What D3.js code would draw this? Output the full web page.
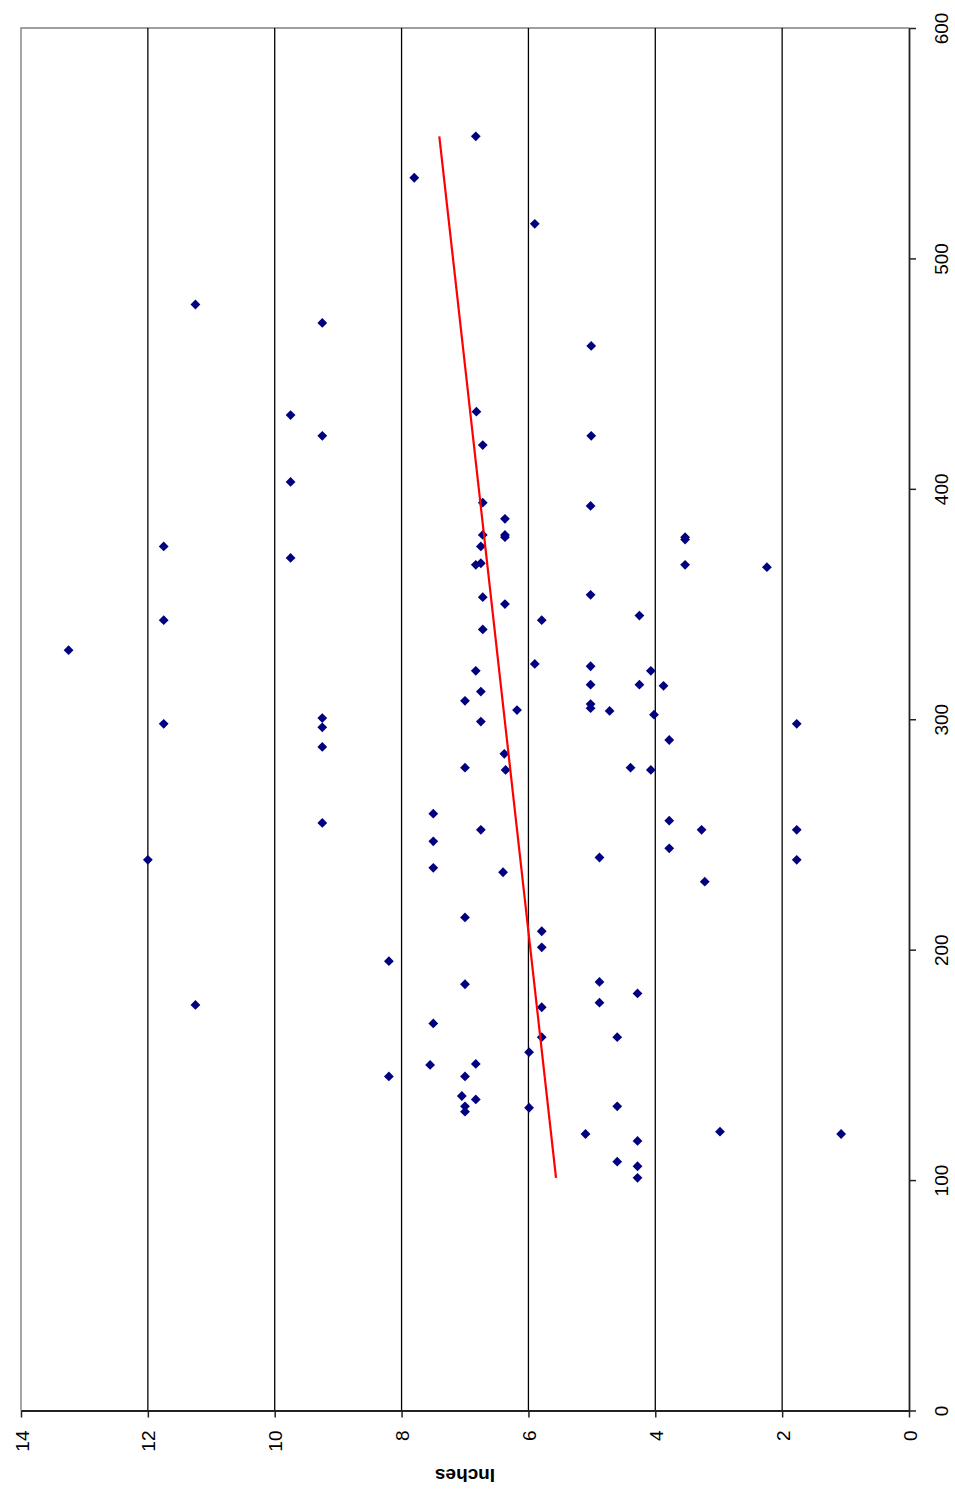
<!DOCTYPE html>
<html>
<head>
<meta charset="utf-8">
<script src="https://cdn.jsdelivr.net/npm/d3@7"></script>
<style>
  html, body { margin: 0; padding: 0; background: #fff; }
  svg { display: block; }
  text { font-family: "Liberation Sans", Arial, sans-serif; }
</style>
</head>
<body>
<svg id="chart" width="955" height="1490"></svg>
<script>
// ---- data (x = horizontal value 0..600, inches = 0..14) ----
const xValues = [330,239,375,343,298,480,176,432,403,370,
  472,423,300.5,296.5,288,255,195,145,535,259,
  247,235.5,168,150,553,515,308,279,214,185,
  145,136.5,132,129.7,150.4,135,433.5,419,394,380,
  375,367.7,367,353,339,321,312,299,252,387,
  380,379,350,304,285,278,233.6,324,343,208,
  201,175,162,155.5,131.4,120,462,423,392.6,354,
  323,315,306.6,304.8,240,186,177,303.6,162,132,
  108,279,181,315,345,117,106,101,321,278,
  302,314.5,291,256,244,379,378,367,252,229.5,
  121,366,298,252,239,120];
const inchValues = [13.25,12.0,11.75,11.75,11.75,11.25,11.25,9.75,9.75,9.75,
  9.25,9.25,9.25,9.25,9.25,9.25,8.2,8.2,7.8,7.5,
  7.5,7.5,7.5,7.55,6.83,5.9,7.0,7.0,7.0,7.0,
  7.0,7.05,7.0,7.0,6.83,6.83,6.82,6.72,6.72,6.72,
  6.75,6.75,6.83,6.72,6.72,6.83,6.75,6.75,6.75,6.37,
  6.37,6.37,6.37,6.18,6.38,6.36,6.4,5.9,5.79,5.79,
  5.79,5.79,5.79,5.99,5.99,5.1,5.01,5.01,5.02,5.02,
  5.02,5.02,5.02,5.02,4.88,4.88,4.88,4.72,4.6,4.6,
  4.6,4.39,4.28,4.25,4.25,4.28,4.28,4.28,4.07,4.07,
  4.02,3.87,3.78,3.78,3.78,3.53,3.53,3.53,3.27,3.22,
  2.98,2.24,1.77,1.77,1.77,1.07];
const trendX = [101, 553];
const trendInches = [5.565, 7.405];
const xTicks = [0,100,200,300,400,500,600];
const inchTicks = [0,2,4,6,8,10,12,14];
const gridInches = [2,4,6,8,10,12];
const axisTitle = "Inches";

// ---- layout (chart is drawn rotated: inches run right->left, x runs bottom->top) ----
const plotL = 21, plotR = 909, plotT = 28, plotB = 1410.5;
const svg = d3.select("#chart");
svg.append("rect").attr("width",955).attr("height",1490).attr("fill","#fff");

const iScale = d3.scaleLinear().domain([0,14]).range([plotR, plotL]);
const xScale = d3.scaleLinear().domain([0,600]).range([plotB, plotT]);

// plot border (top & left) gray
svg.append("path")
  .attr("d", `M${plotL},${plotB}V${plotT}H${plotR}`)
  .attr("fill","none").attr("stroke","#808080").attr("stroke-width",1.4);

// gridlines
svg.append("g").selectAll("line").data(gridInches).join("line")
  .attr("x1", d => iScale(d)).attr("x2", d => iScale(d))
  .attr("y1", plotT).attr("y2", plotB)
  .attr("stroke","#000").attr("stroke-width",1.3);

// bottom axis (inches)
const gB = svg.append("g").attr("transform",`translate(0,${plotB})`)
  .call(d3.axisBottom(iScale).tickValues(inchTicks).tickSize(7).tickSizeOuter(0).tickFormat(d3.format("d")));
gB.select(".domain").attr("stroke","#222").attr("stroke-width",1.8);
gB.selectAll(".tick line").attr("stroke","#222").attr("stroke-width",1.5);
gB.selectAll(".tick text")
  .attr("font-size",19).attr("fill","#000")
  .attr("text-anchor","end")
  .attr("dy",null).attr("y",null)
  .attr("transform","translate(7,20) rotate(-90)");

// right axis (x values)
const gR = svg.append("g").attr("transform",`translate(${plotR},0)`)
  .call(d3.axisRight(xScale).tickValues(xTicks).tickSize(7).tickSizeOuter(0).tickFormat(d3.format("d")));
gR.select(".domain").attr("stroke","#222").attr("stroke-width",1.8);
gR.selectAll(".tick line").attr("stroke","#222").attr("stroke-width",1.5);
gR.selectAll(".tick text")
  .attr("font-size",19).attr("fill","#000")
  .attr("text-anchor","middle")
  .attr("x",null).attr("dy",null)
  .attr("transform","translate(39,0) rotate(-90)");

// axis title (upside-down)
svg.append("text")
  .attr("transform",`translate(${(plotL+plotR)/2},1469) rotate(180)`)
  .attr("text-anchor","middle")
  .attr("font-size",19).attr("font-weight","bold").attr("fill","#000")
  .text(axisTitle);

// points
const diamond = { draw(ctx, size) { const r = Math.sqrt(size/2);
  ctx.moveTo(0,-r); ctx.lineTo(r,0); ctx.lineTo(0,r); ctx.lineTo(-r,0); ctx.closePath(); } };
const sym = d3.symbol().type(diamond).size(48);
const pts = xValues.map((x,i) => ({x, v: inchValues[i]}));
svg.append("g").selectAll("path").data(pts).join("path")
  .attr("d", sym)
  .attr("transform", d => `translate(${iScale(d.v)},${xScale(d.x)})`)
  .attr("fill","#000080");

// trend line
const trend = trendX.map((x,i) => ({x, v: trendInches[i]}));
svg.append("path").datum(trend)
  .attr("d", d3.line().x(d => iScale(d.v)).y(d => xScale(d.x)))
  .attr("fill","none").attr("stroke","#ff0000").attr("stroke-width",2.2);
</script>
</body>
</html>
